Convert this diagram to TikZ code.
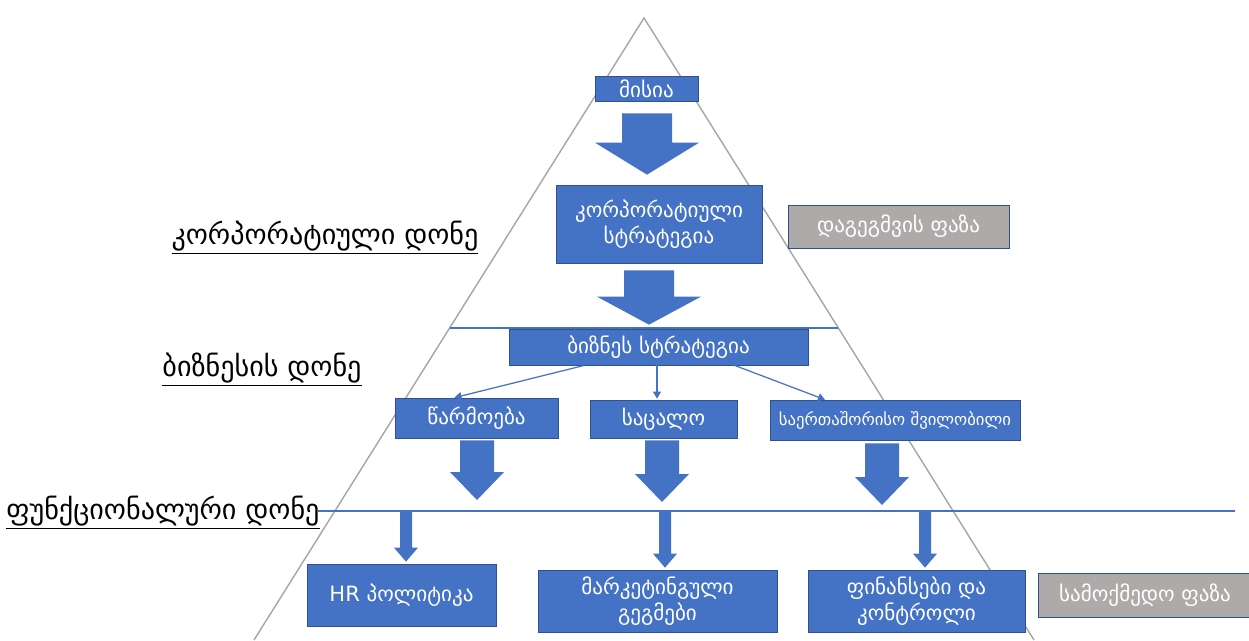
\documentclass[tikz,border=0pt]{standalone}
\usepackage{fontspec}
\setmainfont{DejaVu Sans}
\usetikzlibrary{arrows.meta,calc,positioning}

\definecolor{boxblue}{HTML}{4472C4}
\definecolor{boxedge}{HTML}{2F528F}
\definecolor{phasegrey}{HTML}{AEAAAA}
\definecolor{pyramidgrey}{HTML}{A6A6A6}

% block arrow: start, end, shaft half width, head half width, head length
\newcommand{\BlockArrow}[5]{%
	\fill[boxblue] ($(#1)+(-#3,0)$) -- ($(#1)+(#3,0)$)
		-- ($(#1|-#2)+(#3,-#5)$) -- ($(#1|-#2)+(#4,-#5)$)
		-- (#1|-#2)
		-- ($(#1|-#2)+(-#4,-#5)$) -- ($(#1|-#2)+(-#3,-#5)$) -- cycle;}

\tikzset{
	box/.style={draw=boxedge, fill=boxblue, text=white, align=center, inner sep=0pt,
		font=\fontsize{12}{15}\selectfont},
	phasebox/.style={box, fill=phasegrey},
	level/.style={inner sep=0pt, font=\fontsize{16}{19}\selectfont},
	thinarrow/.style={draw=boxblue, line width=0.7pt, -{Triangle[length=4pt,width=4.5pt]}},
	divider/.style={draw=boxblue, line width=0.6pt},
}

\begin{document}
\begin{tikzpicture}[x=0.02cm, y=-0.02cm]
			\path[use as bounding box, fill=white] (0,0) rectangle (1249,640);
			\pgfmathsetmacro{\BigShaft}{25}
			\pgfmathsetmacro{\BigHead}{52}
			\pgfmathsetmacro{\MidShaft}{17}
			\pgfmathsetmacro{\MidHead}{27}
			\pgfmathsetmacro{\SmallShaft}{6}
			\pgfmathsetmacro{\SmallHead}{12}
			\coordinate (Apex) at (644,18);
			\coordinate (PyramidLeft) at (254,640);
			\coordinate (PyramidRight) at (1034,640);
			\coordinate (FuncLineL) at (318,511);
			\coordinate (FuncLineR) at (1235,511);
			
			\draw[pyramidgrey, line width=0.8pt] (PyramidLeft) -- (Apex) -- (PyramidRight);
			\draw[divider] ($(Apex)!0.4984!(PyramidLeft)$) -- ($(Apex)!0.4984!(PyramidRight)$);
			\draw[divider] (FuncLineL) -- (FuncLineR);
			
			\node[box, minimum width=2.06cm, minimum height=0.5cm] (Mission) at (646.5,88.5) {მისია};
			\node[box, minimum width=4.12cm, minimum height=1.56cm] (CorpStrategy) at (659,224) {კორპორატიული\\სტრატეგია};
			\node[box, minimum width=5.98cm, minimum height=0.72cm] (BusinessStrategy) at (658.5,347) {ბიზნეს სტრატეგია};
			\node[box, minimum width=3.26cm, minimum height=0.8cm] (Production) at (476.5,418) {წარმოება};
			\node[box, minimum width=2.94cm, minimum height=0.76cm] (Retail) at (663.5,419) {საცალო};
			\node[box, minimum width=5cm, minimum height=0.8cm, font=\fontsize{9.5}{12}\selectfont] (Subsidiary) at (895,420) {საერთაშორისო შვილობილი};
			\node[box, minimum width=3.78cm, minimum height=1.24cm] (HRPolicy) at (401.5,595) {HR პოლიტიკა};
			\node[box, minimum width=4.78cm, minimum height=1.24cm] (MarketingPlans) at (657.5,601) {მარკეტინგული\\გეგმები};
			\node[box, minimum width=4.34cm, minimum height=1.24cm] (FinanceControl) at (916.5,601) {ფინანსები და\\კონტროლი};
			\node[phasebox, minimum width=4.42cm, minimum height=0.86cm] (PlanningPhase) at (898.5,226.5) {დაგეგმვის ფაზა};
			\node[phasebox, minimum width=4.28cm, minimum height=0.88cm] (ActionPhase) at (1145,595) {სამოქმედო ფაზა};
			
			\node[level] (CorpLevel) at (325,238) {\underline{კორპორატიული დონე}};
			\node[level] (BusinessLevel) at (262,370) {\underline{ბიზნესის დონე}};
			\node[level] (FunctionalLevel) at (163,513) {\underline{ფუნქციონალური დონე}};
			
			\coordinate (MissionOut) at ($(Mission.south)+(0.5,12)$);
			\coordinate (CorpIn) at ($(CorpStrategy.north)+(0,-10)$);
			\coordinate (CorpOut) at ($(CorpStrategy.south)+(-10,7)$);
			\coordinate (BusinessIn) at ($(BusinessStrategy.north)+(0,-4)$);
			\BlockArrow{MissionOut}{CorpIn}{\BigShaft}{\BigHead}{32}
			\BlockArrow{CorpOut}{BusinessIn}{\BigShaft}{\BigHead}{28}
			
			\draw[thinarrow] ($(BusinessStrategy.south)+(-74,0)$) -- ($(Production.north)+(-22,0)$);
			\draw[thinarrow] ($(BusinessStrategy.south)+(-1.5,0)$) -- ($(Retail.north)+(-6.5,-1)$);
			\draw[thinarrow] ($(BusinessStrategy.south)+(76,0)$) -- ($(Subsidiary.north)+(-70,0)$);
			
			\coordinate (ProductionOut) at ($(Production.south)+(0.5,2)$);
			\coordinate (RetailOut) at ($(Retail.south)+(-1.5,2)$);
			\coordinate (SubsidiaryOut) at ($(Subsidiary.south)+(-13,3)$);
			\coordinate (ProductionEnd) at ($(FuncLineL)+(0,-11)$);
			\coordinate (RetailEnd) at ($(FuncLineL)+(0,-9)$);
			\coordinate (SubsidiaryEnd) at ($(FuncLineL)+(0,-6)$);
			\BlockArrow{ProductionOut}{ProductionEnd}{\MidShaft}{\MidHead}{28}
			\BlockArrow{RetailOut}{RetailEnd}{\MidShaft}{\MidHead}{28}
			\BlockArrow{SubsidiaryOut}{SubsidiaryEnd}{\MidShaft}{\MidHead}{28}
			
			\coordinate (HRIn) at ($(HRPolicy.north)+(0,-2)$);
			\coordinate (MarketingIn) at ($(MarketingPlans.north)+(0,-2)$);
			\coordinate (FinanceIn) at ($(FinanceControl.north)+(0,-2)$);
			\coordinate (HRStart) at ($(HRIn|-FuncLineL)+(4.5,0)$);
			\coordinate (MarketingStart) at ($(MarketingIn|-FuncLineL)+(7.5,0)$);
			\coordinate (FinanceStart) at ($(FinanceIn|-FuncLineL)+(8.5,0)$);
			\BlockArrow{HRStart}{HRIn}{\SmallShaft}{\SmallHead}{14}
			\BlockArrow{MarketingStart}{MarketingIn}{\SmallShaft}{\SmallHead}{14}
			\BlockArrow{FinanceStart}{FinanceIn}{\SmallShaft}{\SmallHead}{14}
		\end{tikzpicture}
\end{document}
